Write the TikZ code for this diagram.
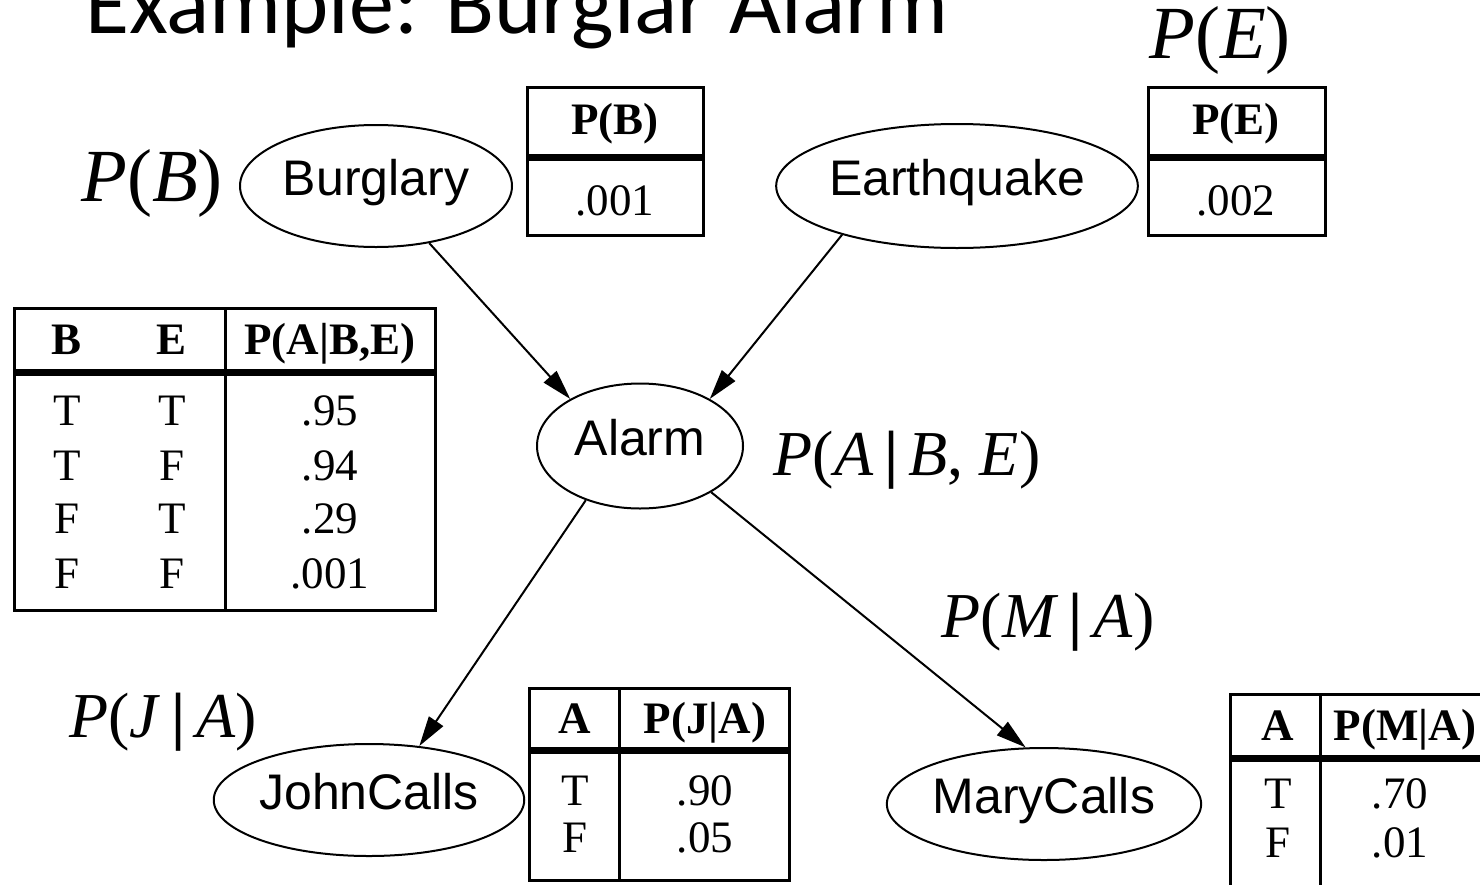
\documentclass[tikz,border=0pt]{standalone}
\usepackage{fontspec}
\newfontfamily\titlefont{Carlito}
\newfontfamily\nodefont{Liberation Sans}
\newfontfamily\tablefont{Liberation Serif}
\usetikzlibrary{shapes.geometric,arrows.meta}
\newcommand{\pv}[1]{\textit{#1\/}}
\newcommand{\pbar}{\,{\bfseries|}\,}
\tikzset{
    net-node/.style = {draw, line width=2pt, ellipse, inner sep=0pt, text height=36pt, text depth=18pt, font=\nodefont\fontsize{50}{60}\selectfont},
    net-arrow/.style = {line width=2pt, -{Triangle[length=30pt,width=17pt]}},
    prob-label/.style = {inner sep=0pt, font=\tablefont\fontsize{64}{72}\selectfont},
    cpt-frame/.style = {line width=3pt},
    cpt-rule/.style = {line width=7pt},
    cpt-head/.style = {anchor=base, inner sep=0pt, font=\tablefont\bfseries\fontsize{45}{54}\selectfont},
    cpt-cell/.style = {anchor=base, inner sep=0pt, font=\tablefont\fontsize{45}{54}\selectfont},
}

\begin{document}
\begin{tikzpicture}[x=1pt,y=-1pt]
\useasboundingbox (0,0) rectangle (1480,884);

\node[anchor=base west, inner sep=0pt, font=\titlefont\fontsize{90}{100}\selectfont] (title) at (85,33) {Example: Burglar Alarm};

\node[net-node, minimum width=272pt, minimum height=122pt] (burglary) at (376,186) {Burglary};
\node[net-node, minimum width=346pt, minimum height=124pt] (earthquake) at (957,186) {Earthquake};
\node[net-node, minimum width=206pt, minimum height=125pt] (alarm) at (640,446) {Alarm};
\node[net-node, minimum width=308pt, minimum height=112pt] (johncalls) at (369,800) {JohnCalls};
\node[net-node, minimum width=314pt, minimum height=112pt] (marycalls) at (1044,804) {MaryCalls};

\draw[net-arrow] (burglary.313) -- (alarm.146);
\draw[net-arrow] (earthquake.203) -- (alarm.34);
\draw[net-arrow] (alarm.225) -- (johncalls.47);
\draw[net-arrow] (alarm.327) -- (marycalls.108);

\node[prob-label, font=\tablefont\fontsize{75}{80}\selectfont] (pb-label) at (152,183) {\pv{P}(\pv{B})};
\node[prob-label, font=\tablefont\fontsize{75}{80}\selectfont] (pe-label) at (1220,40) {\pv{P}(\pv{E})};
\node[prob-label] (pa-label) at (907,460) {\pv{P}(\pv{A}\pbar\pv{B}, \pv{E})};
\node[prob-label] (pj-label) at (163,722) {\pv{P}(\pv{J}\pbar\pv{A})};
\node[prob-label] (pm-label) at (1048,622) {\pv{P}(\pv{M}\pbar\pv{A})};

\draw[cpt-frame] (527,87) rectangle (703,235);
\draw[cpt-rule] (527,157) -- (703,157);
\node[cpt-head] (pb-head) at (615,134) {P(B)};
\node[cpt-cell] (pb-val) at (615,215) {.001};

\draw[cpt-frame] (1148,87) rectangle (1325,235);
\draw[cpt-rule] (1148,157) -- (1325,157);
\node[cpt-head] (pe-head) at (1236,134) {P(E)};
\node[cpt-cell] (pe-val) at (1236,215) {.002};

\draw[cpt-frame] (14,308) rectangle (435,610);
\draw[cpt-frame] (225,308) -- (225,610);
\draw[cpt-rule] (14,372) -- (435,372);
\node[cpt-head] (pa-b) at (67,354) {B};
\node[cpt-head] (pa-e) at (172,354) {E};
\node[cpt-head] (pa-head) at (330,354) {P(A|B,E)};
\foreach \b/\e/\p/\y [count=\i] in {T/T/.95/425, T/F/.94/480, F/T/.29/533, F/F/.001/588} {
    \node[cpt-cell] (pa-b\i) at (67,\y) {\b};
    \node[cpt-cell] (pa-e\i) at (172,\y) {\e};
    \node[cpt-cell] (pa-p\i) at (330,\y) {\p};
}

\draw[cpt-frame] (529,688) rectangle (789,880);
\draw[cpt-frame] (619,688) -- (619,880);
\draw[cpt-rule] (529,750) -- (789,750);
\node[cpt-head] (pj-a) at (575,733) {A};
\node[cpt-head] (pj-head) at (705,733) {P(J|A)};
\node[cpt-cell] (pj-a1) at (575,805) {T};
\node[cpt-cell] (pj-p1) at (705,805) {.90};
\node[cpt-cell] (pj-a2) at (575,852) {F};
\node[cpt-cell] (pj-p2) at (705,852) {.05};

\draw[cpt-frame] (1230,694) rectangle (1500,900);
\draw[cpt-frame] (1320,694) -- (1320,900);
\draw[cpt-rule] (1230,758) -- (1500,758);
\node[cpt-head] (pm-a) at (1278,740) {A};
\node[cpt-head] (pm-head) at (1405,740) {P(M|A)};
\node[cpt-cell] (pm-a1) at (1278,808) {T};
\node[cpt-cell] (pm-p1) at (1400,808) {.70};
\node[cpt-cell] (pm-a2) at (1278,857) {F};
\node[cpt-cell] (pm-p2) at (1400,857) {.01};
\end{tikzpicture}
\end{document}
